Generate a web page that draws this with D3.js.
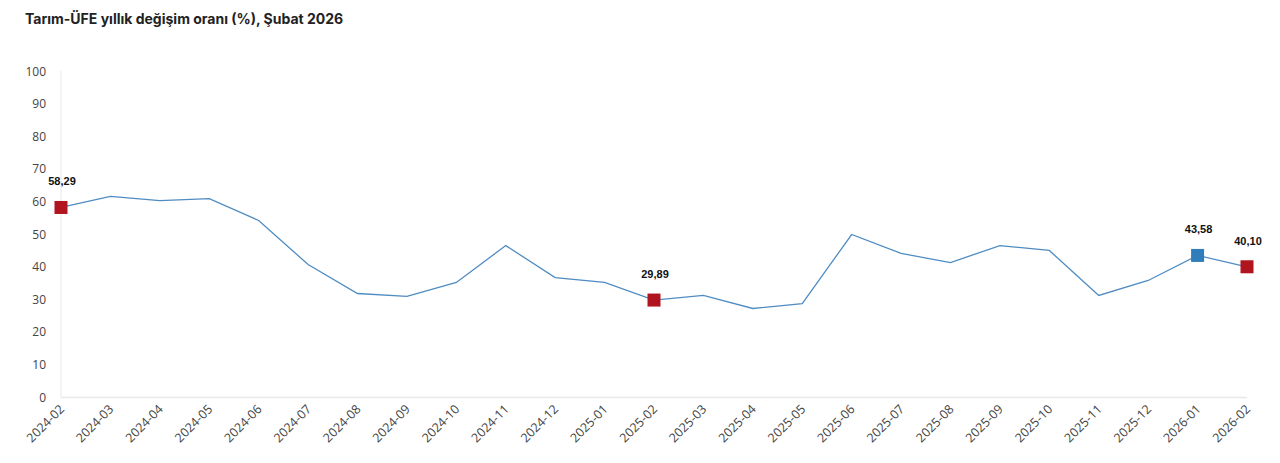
<!DOCTYPE html>
<html><head><meta charset="utf-8">
<script src="https://cdn.jsdelivr.net/npm/d3@7"></script>
<style>body{margin:0;background:#fff;font-family:"Segoe UI","Open Sans","Noto Sans",sans-serif;}</style>
</head><body><svg id="c" width="1280" height="463"></svg>
<script>
const categories = ["2024-02","2024-03","2024-04","2024-05","2024-06","2024-07","2024-08","2024-09","2024-10","2024-11","2024-12","2025-01","2025-02","2025-03","2025-04","2025-05","2025-06","2025-07","2025-08","2025-09","2025-10","2025-11","2025-12","2026-01","2026-02"];
const values = [58.29,61.7,60.4,61.0,54.3,40.8,31.9,31.0,35.3,46.6,36.8,35.3,29.89,31.3,27.3,28.8,50.0,44.2,41.4,46.6,45.1,31.3,35.9,43.58,40.10];
const yTicks = [0,10,20,30,40,50,60,70,80,90,100];
const highlights = [
  {cat:"2024-02", label:"58,29", color:"red"},
  {cat:"2025-02", label:"29,89", color:"red"},
  {cat:"2026-01", label:"43,58", color:"blue"},
  {cat:"2026-02", label:"40,10", color:"red"}
];
const colors = {red:"#B0141F", blue:"#2F7EBB", line:"#4F8CC2"};

const svg = d3.select("#c");
const x = d3.scalePoint().domain(categories).range([61,1247]);
const y = d3.scaleLinear().domain([0,100]).range([397.5,71.5]);

svg.append("text").attr("x",25).attr("y",24).attr("font-size",14).attr("font-weight",700)
  .attr("fill","#222").attr("font-family","Inter, 'Open Sans', sans-serif")
  .text("Tarım-ÜFE yıllık değişim oranı (%), Şubat 2026");

svg.append("line").attr("x1",61).attr("x2",61).attr("y1",71).attr("y2",397).attr("stroke","#e8e8e8").attr("stroke-width",1);
svg.append("line").attr("x1",61).attr("x2",1247).attr("y1",397.5).attr("y2",397.5).attr("stroke","#e8e8e8").attr("stroke-width",1.5);

svg.append("g").selectAll("text").data(yTicks).join("text")
  .attr("x",46).attr("y",d=>y(d)+4).attr("text-anchor","end")
  .attr("font-size",12).attr("fill","#444").text(d=>d);

svg.append("g").selectAll("text").data(categories).join("text")
  .attr("transform",d=>`translate(${x(d)+4},${410}) rotate(-45)`)
  .attr("text-anchor","end").attr("font-size",12.5).attr("fill","#444").text(d=>d);

const line = d3.line().x((d,i)=>x(categories[i])).y(d=>y(d));
svg.append("path").datum(values).attr("d",line).attr("fill","none")
  .attr("stroke",colors.line).attr("stroke-width",1.3);

const hg = svg.append("g");
highlights.forEach(h=>{
  const i = categories.indexOf(h.cat);
  const cx = x(h.cat), cy = y(values[i]);
  hg.append("rect").attr("x",cx-6.5).attr("y",cy-6.5).attr("width",13).attr("height",13).attr("fill",colors[h.color]);
  hg.append("text").attr("x",cx+1).attr("y",cy-22).attr("text-anchor","middle")
    .attr("font-size",11).attr("font-weight",700).attr("fill","#111")
    .attr("font-family","Arial, 'Liberation Sans', sans-serif").text(h.label);
});
</script></body></html>
